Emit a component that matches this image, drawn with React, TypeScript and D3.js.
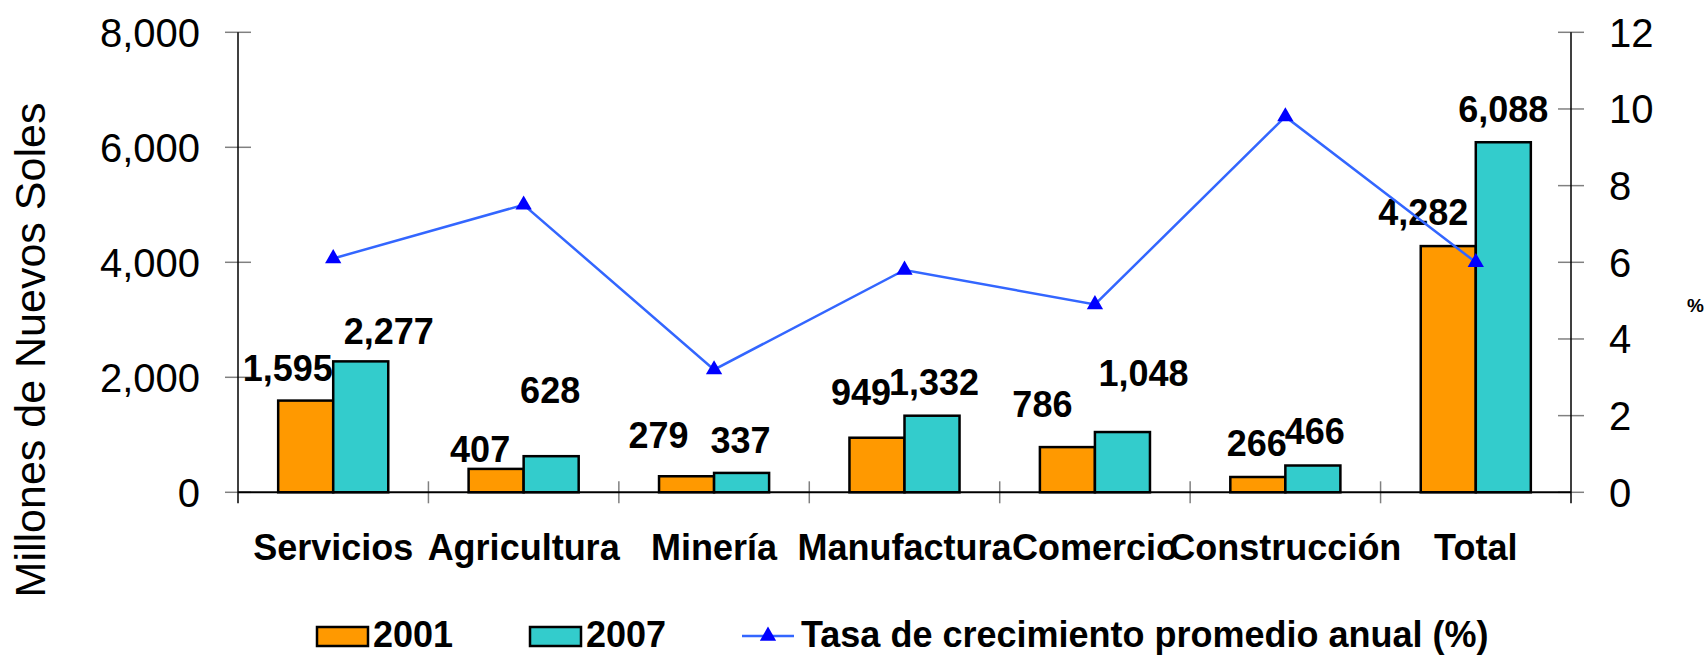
import React, { useEffect, useRef } from "react";
import * as d3 from "d3";

// chart values
const categories = [
  "Servicios",
  "Agricultura",
  "Minería",
  "Manufactura",
  "Comercio",
  "Construcción",
  "Total",
];
const years = ["2001", "2007"];
const values2001 = [1595, 407, 279, 949, 786, 266, 4282];
const values2007 = [2277, 628, 337, 1332, 1048, 466, 6088];
const growthRate = [6.1, 7.5, 3.2, 5.8, 4.9, 9.8, 6.0];
const leftTicks = [0, 2000, 4000, 6000, 8000];
const rightTicks = [0, 2, 4, 6, 8, 10, 12];
const lineLabel = "Tasa de crecimiento promedio anual (%)";

// hand-placed data label offsets (px) as in the original sheet
const nudge2001 = [[-18, -20], [-16, -7], [-28, -28], [-16, -33], [-25, -30], [-1, -21], [-25, -21]];
const nudge2007 = [[28, -17], [-1, -53], [-1, -20], [2, -21], [21, -46], [2, -22], [0, -20]];

const W = 1706;
const H = 656;
const plot = { left: 238, right: 1571, top: 32.3, bottom: 492.3 };
const FONT = "'Liberation Sans', Arial, sans-serif";
const colors = { y2001: "#FF9900", y2007: "#33CCCC", line: "#3366FF", marker: "#0000FF" };

const App: React.FC = () => {
  const svgRef = useRef<SVGSVGElement | null>(null);

  useEffect(() => {
    if (!svgRef.current) return;
    const svg = d3.select(svgRef.current);
    svg.selectAll("*").remove();

    const x0 = d3.scaleBand().domain(categories).range([plot.left, plot.right]).padding(0);
    const x1 = d3
      .scaleBand()
      .domain(years)
      .range([0, x0.bandwidth()])
      .paddingInner(0)
      .paddingOuter(0.73);
    const yL = d3.scaleLinear().domain([0, 8000]).range([plot.bottom, plot.top]);
    const yR = d3.scaleLinear().domain([0, 12]).range([plot.bottom, plot.top]);

    const rows = categories.map((c, i) => ({
      cat: c,
      vals: [values2001[i], values2007[i]],
      rate: growthRate[i],
      nudges: [nudge2001[i], nudge2007[i]],
    }));

    // left axis
    const gl = svg.append("g");
    gl.selectAll("line.tick")
      .data(leftTicks)
      .enter()
      .append("line")
      .attr("x1", plot.left - 13)
      .attr("x2", plot.left + 13)
      .attr("y1", (d) => yL(d))
      .attr("y2", (d) => yL(d))
      .attr("stroke", "#808080")
      .attr("stroke-width", 1.5);
    gl.selectAll("text")
      .data(leftTicks)
      .enter()
      .append("text")
      .attr("x", 200)
      .attr("y", (d) => yL(d) + 14.5)
      .attr("text-anchor", "end")
      .attr("font-family", FONT)
      .attr("font-size", 40)
      .text((d) => d3.format(",")(d));

    // right axis
    const gr = svg.append("g");
    gr.selectAll("line")
      .data(rightTicks)
      .enter()
      .append("line")
      .attr("x1", plot.right - 13)
      .attr("x2", plot.right + 13)
      .attr("y1", (d) => yR(d))
      .attr("y2", (d) => yR(d))
      .attr("stroke", "#808080")
      .attr("stroke-width", 1.5);
    gr.selectAll("text")
      .data(rightTicks)
      .enter()
      .append("text")
      .attr("x", 1609)
      .attr("y", (d) => yR(d) + 14.5)
      .attr("font-family", FONT)
      .attr("font-size", 40)
      .text((d) => d);

    // category ticks
    svg
      .append("g")
      .selectAll("line")
      .data(categories.slice(1))
      .enter()
      .append("line")
      .attr("x1", (d) => x0(d)!)
      .attr("x2", (d) => x0(d)!)
      .attr("y1", plot.bottom - 11)
      .attr("y2", plot.bottom + 11)
      .attr("stroke", "#808080")
      .attr("stroke-width", 1.5);

    // axis lines
    svg.append("line")
      .attr("x1", plot.left).attr("x2", plot.left)
      .attr("y1", plot.top).attr("y2", plot.bottom + 11)
      .attr("stroke", "#000").attr("stroke-width", 1.5);
    svg.append("line")
      .attr("x1", plot.right).attr("x2", plot.right)
      .attr("y1", plot.top).attr("y2", plot.bottom + 11)
      .attr("stroke", "#000").attr("stroke-width", 1.5);

    // bars
    const groups = svg
      .append("g")
      .selectAll("g")
      .data(rows)
      .enter()
      .append("g")
      .attr("transform", (d) => `translate(${x0(d.cat)},0)`);

    groups
      .selectAll("rect")
      .data((d) => d.vals.map((v, j) => ({ year: years[j], v })))
      .enter()
      .append("rect")
      .attr("x", (d) => x1(d.year)!)
      .attr("y", (d) => yL(d.v))
      .attr("width", x1.bandwidth())
      .attr("height", (d) => plot.bottom - yL(d.v))
      .attr("fill", (d) => (d.year === "2001" ? colors.y2001 : colors.y2007))
      .attr("stroke", "#000")
      .attr("stroke-width", 2.5);

    // baseline
    svg.append("line")
      .attr("x1", plot.left).attr("x2", plot.right)
      .attr("y1", plot.bottom).attr("y2", plot.bottom)
      .attr("stroke", "#000").attr("stroke-width", 2);

    // growth line
    const line = d3
      .line<(typeof rows)[number]>()
      .x((d) => x0(d.cat)! + x0.bandwidth() / 2)
      .y((d) => yR(d.rate));
    svg.append("path")
      .datum(rows)
      .attr("d", line)
      .attr("fill", "none")
      .attr("stroke", colors.line)
      .attr("stroke-width", 2.5);

    const tri = d3.symbol(d3.symbolTriangle).size(115);
    svg.append("g")
      .selectAll("path")
      .data(rows)
      .enter()
      .append("path")
      .attr("d", tri)
      .attr("transform", (d) => `translate(${x0(d.cat)! + x0.bandwidth() / 2},${yR(d.rate)})`)
      .attr("fill", colors.marker);

    // data labels
    groups
      .selectAll("text")
      .data((d) => d.vals.map((v, j) => ({ year: years[j], v, n: d.nudges[j] })))
      .enter()
      .append("text")
      .attr("x", (d) => x1(d.year)! + x1.bandwidth() / 2 + d.n[0])
      .attr("y", (d) => yL(d.v) + d.n[1])
      .attr("text-anchor", "middle")
      .attr("font-family", FONT)
      .attr("font-size", 36)
      .attr("font-weight", "bold")
      .text((d) => d3.format(",")(d.v));

    // category labels
    svg.append("g")
      .selectAll("text")
      .data(categories)
      .enter()
      .append("text")
      .attr("x", (d) => x0(d)! + x0.bandwidth() / 2)
      .attr("y", 560)
      .attr("text-anchor", "middle")
      .attr("font-family", FONT)
      .attr("font-size", 36)
      .attr("font-weight", "bold")
      .text((d) => d);

    // y-axis title
    svg.append("text")
      .attr("transform", "translate(45,350) rotate(-90)")
      .attr("text-anchor", "middle")
      .attr("font-family", FONT)
      .attr("font-size", 43)
      .text("Millones de Nuevos Soles");

    svg.append("text")
      .attr("x", 1687)
      .attr("y", 312)
      .attr("font-family", FONT)
      .attr("font-size", 19)
      .attr("font-weight", "bold")
      .text("%");

    // legend
    const lg = svg.append("g");
    const legY = 636;
    const sw = [
      { x: 317, color: colors.y2001, label: years[0] },
      { x: 530, color: colors.y2007, label: years[1] },
    ];
    sw.forEach((s) => {
      lg.append("rect")
        .attr("x", s.x).attr("y", legY - 9)
        .attr("width", 51).attr("height", 19)
        .attr("fill", s.color)
        .attr("stroke", "#000").attr("stroke-width", 2.5);
      lg.append("text")
        .attr("x", s.x + 56).attr("y", legY + 11)
        .attr("font-family", FONT).attr("font-size", 36).attr("font-weight", "bold")
        .text(s.label);
    });
    lg.append("line")
      .attr("x1", 742).attr("x2", 794)
      .attr("y1", legY).attr("y2", legY)
      .attr("stroke", colors.line).attr("stroke-width", 2.5);
    lg.append("path")
      .attr("d", tri)
      .attr("transform", `translate(768,${legY})`)
      .attr("fill", colors.marker);
    lg.append("text")
      .attr("x", 801).attr("y", legY + 11)
      .attr("font-family", FONT).attr("font-size", 36).attr("font-weight", "bold")
      .text(lineLabel);
  }, []);

  return (
    <svg
      ref={svgRef}
      width={W}
      height={H}
      style={{ position: "absolute", left: 0, top: 0, background: "#fff" }}
    />
  );
};

export default App;
